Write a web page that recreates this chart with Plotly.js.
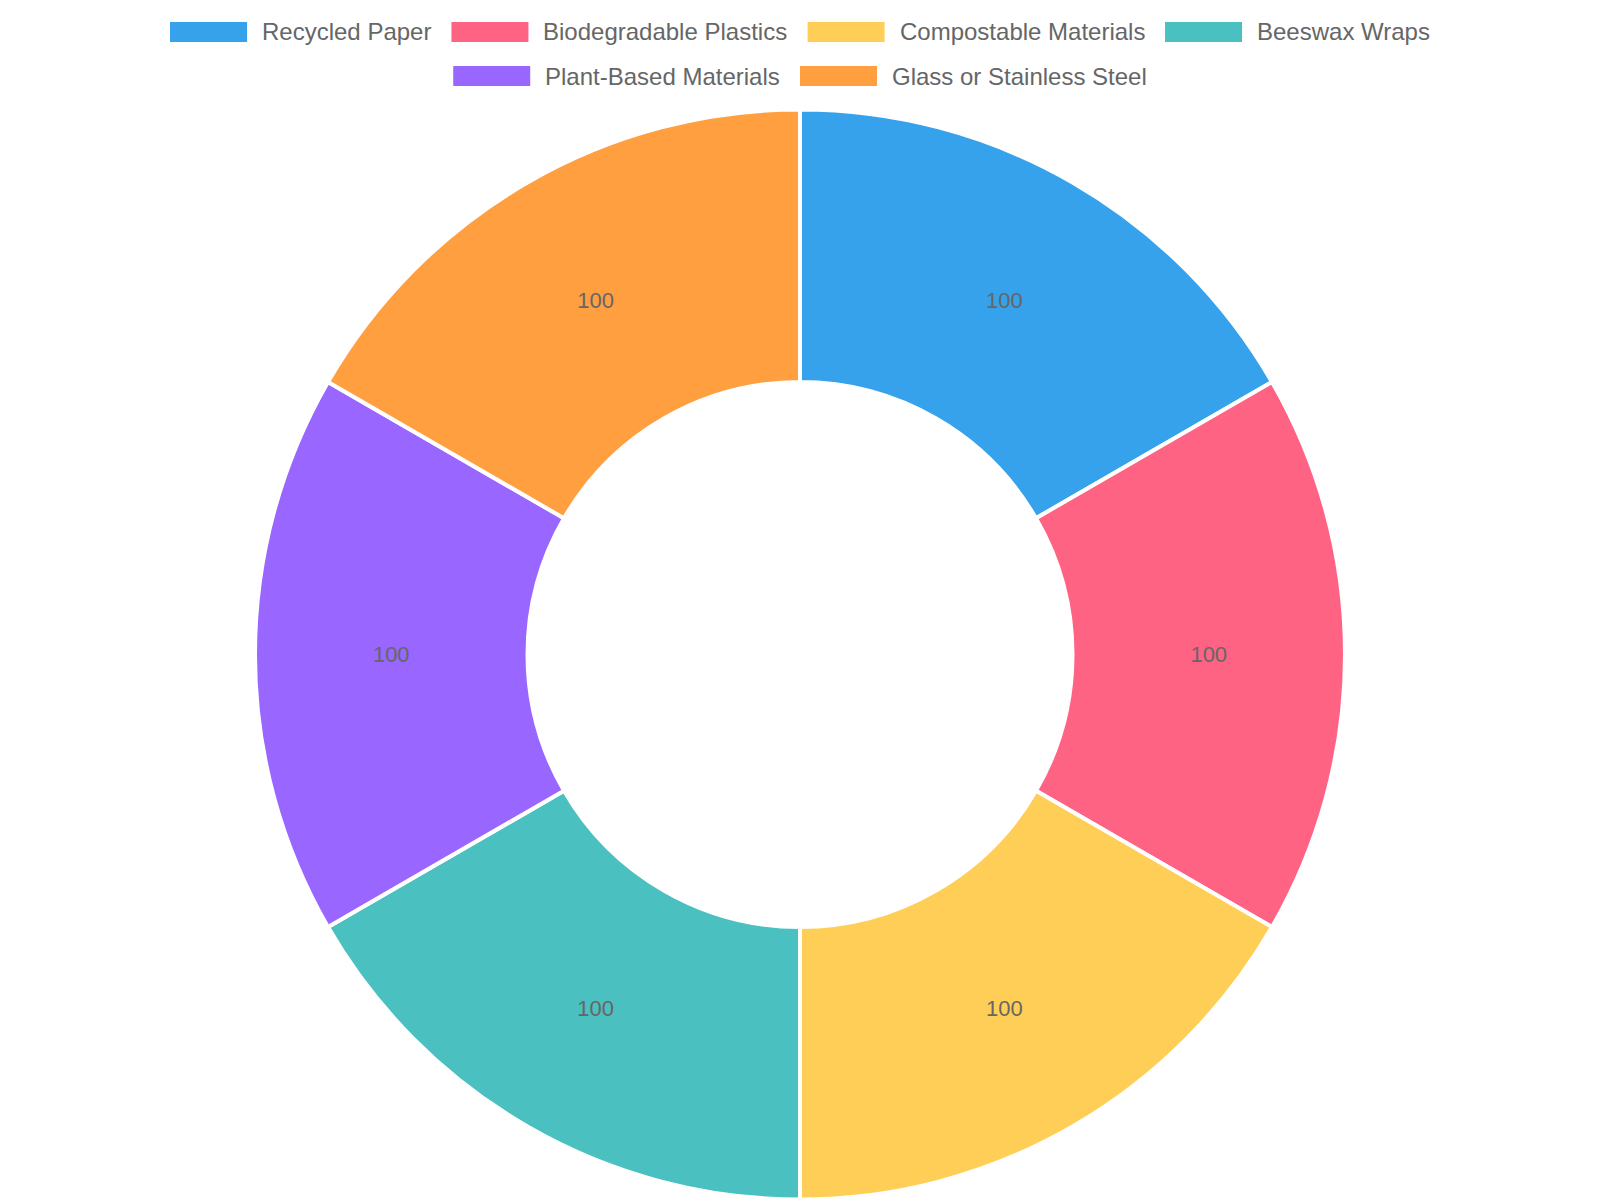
<!DOCTYPE html>
<html>
<head>
<meta charset="utf-8">
<script src="https://cdn.plot.ly/plotly-3.0.1.min.js"></script>
<style>
  html, body { margin: 0; padding: 0; background: #ffffff; }
  #chart { width: 1600px; height: 1200px; }
</style>
</head>
<body>
<div id="chart"></div>
<script>
// Eco-friendly packaging materials, equal shares
const materials = [
  "Recycled Paper",
  "Biodegradable Plastics",
  "Compostable Materials",
  "Beeswax Wraps",
  "Plant-Based Materials",
  "Glass or Stainless Steel"
];
const amounts = [100, 100, 100, 100, 100, 100];
const sliceColors = ["#36A2EB", "#FF6384", "#FFCE56", "#4BC0C0", "#9966FF", "#FF9F40"];

const W = 1600, H = 1200;
const FONT = "'Liberation Sans', Arial, Helvetica, sans-serif";
const TEXT_GREY = "#666666";

// Doughnut centred near (800, 654) px with a ~543 px outer radius
const cx = 800, cy = 654.5, R = 545;
const pieTrace = {
  type: "pie",
  labels: materials,
  values: amounts,
  sort: false,
  direction: "clockwise",
  rotation: 0,
  hole: 0.5,
  marker: { colors: sliceColors, line: { color: "#ffffff", width: 4 } },
  textinfo: "value",
  textposition: "inside",
  insidetextorientation: "horizontal",
  textfont: { family: FONT, size: 22, color: TEXT_GREY },
  hoverinfo: "label+value",
  showlegend: false,
  domain: {
    x: [(cx - R) / W, (cx + R) / W],
    y: [1 - (cy + R) / H, 1 - (cy - R) / H]
  }
};

// Legend laid out in centred rows: coloured bar, then label
const legendFontSize = 24;
const boxW = 77, boxH = 20, boxToText = 92, itemGap = 20, rowMax = 1540;
const rowCentres = [32, 76];

const ctx = document.createElement("canvas").getContext("2d");
ctx.font = legendFontSize + "px 'Liberation Sans', Arial, sans-serif";
const itemWidths = materials.map(m => boxToText + ctx.measureText(m).width);

const rows = [];
let current = [], currentW = 0;
materials.forEach((m, i) => {
  const add = (current.length ? itemGap : 0) + itemWidths[i];
  if (current.length && currentW + add > rowMax) {
    rows.push({ items: current, width: currentW });
    current = []; currentW = 0;
  }
  currentW += (current.length ? itemGap : 0) + itemWidths[i];
  current.push(i);
});
if (current.length) rows.push({ items: current, width: currentW });

const shapes = [], annotations = [];
rows.forEach((row, r) => {
  let x = W / 2 - row.width / 2;
  const yc = rowCentres[r];
  row.items.forEach(i => {
    shapes.push({
      type: "rect", xref: "paper", yref: "paper",
      x0: x / W, x1: (x + boxW) / W,
      y0: 1 - (yc + boxH / 2) / H, y1: 1 - (yc - boxH / 2) / H,
      fillcolor: sliceColors[i], line: { width: 0 }
    });
    annotations.push({
      xref: "paper", yref: "paper",
      x: (x + boxToText) / W, y: 1 - yc / H,
      xanchor: "left", yanchor: "middle",
      xshift: -2,
      showarrow: false,
      text: materials[i],
      font: { family: FONT, size: legendFontSize, color: TEXT_GREY }
    });
    x += itemWidths[i] + itemGap;
  });
});

const layout = {
  width: W, height: H,
  margin: { l: 0, r: 0, t: 0, b: 0 },
  paper_bgcolor: "#ffffff",
  plot_bgcolor: "#ffffff",
  font: { family: FONT, color: TEXT_GREY },
  showlegend: false,
  shapes: shapes,
  annotations: annotations
};

Plotly.newPlot("chart", [pieTrace], layout, { displayModeBar: false });
</script>
</body>
</html>
